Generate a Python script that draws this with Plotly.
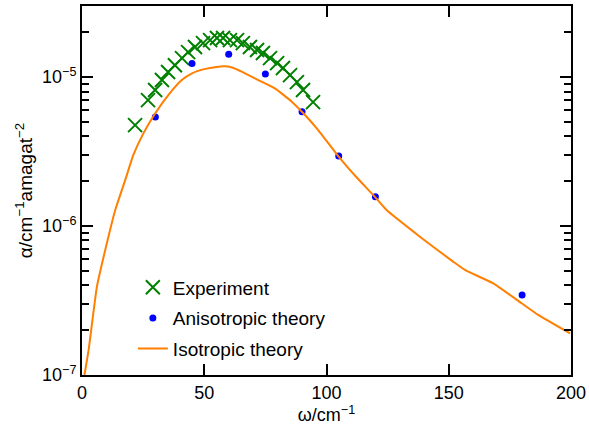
import plotly.graph_objects as go

# Experiment (crosses)
exp_w = [21.7, 27.0, 29.9, 32.7, 35.2, 38.0, 40.9, 43.4, 46.2, 49.5, 52.4, 55.2, 57.7,
         60.5, 63.4, 65.8, 68.7, 71.6, 74.0, 76.9, 79.8, 82.2, 85.1, 87.9, 90.4, 94.5]
exp_a = [4.76e-6, 7.0e-6, 8.18e-6, 9.55e-6, 1.08e-5, 1.20e-5, 1.34e-5, 1.47e-5, 1.59e-5,
         1.69e-5, 1.77e-5, 1.83e-5, 1.83e-5, 1.77e-5, 1.77e-5, 1.69e-5, 1.59e-5, 1.52e-5,
         1.45e-5, 1.34e-5, 1.24e-5, 1.15e-5, 1.03e-5, 9.25e-6, 8.18e-6, 6.79e-6]

# Anisotropic theory (dots)
ani_w = [30, 45, 60, 75, 90, 105, 120, 180]
ani_a = [5.4e-6, 1.235e-5, 1.42e-5, 1.05e-5, 5.85e-6, 2.95e-6, 1.57e-6, 3.44e-7]

# Isotropic theory (line)
iso_w = [1, 2.7, 6.1, 9.5, 13.6, 17.7, 21, 25.1, 29.9, 35.3, 40.8, 45, 50, 55, 58.5, 62,
         65.3, 72.1, 78.9, 85.8, 91.2, 96.6, 104.8, 112, 119.8, 124.6, 138.2, 151.9,
         156.6, 168.2, 179.8, 186.6, 199.6]
iso_a = [1.0e-7, 1.47e-7, 3.92e-7, 6.9e-7, 1.28e-6, 2.04e-6, 3.0e-6, 4.19e-6, 5.7e-6,
         7.57e-6, 9.55e-6, 1.06e-5, 1.13e-5, 1.17e-5, 1.18e-5, 1.15e-5, 1.086e-5,
         9.55e-6, 8.4e-6, 6.83e-6, 5.56e-6, 4.41e-6, 2.95e-6, 2.15e-6, 1.57e-6, 1.28e-6,
         8.48e-7, 5.75e-7, 5.07e-7, 4.12e-7, 3.03e-7, 2.53e-7, 1.9e-7]

x_ticks = [0, 50, 100, 150, 200]
y_ticks = [1e-7, 1e-6, 1e-5]
y_ticktext = ["10<sup>−7</sup>", "10<sup>−6</sup>", "10<sup>−5</sup>"]
y_minor = [m * 10.0 ** e for e in (-7, -6, -5) for m in range(2, 10) if m * 10.0 ** e < 3e-5]

FONT = "Liberation Sans, Arial, sans-serif"

fig = go.Figure()
fig.add_trace(go.Scatter(
    x=exp_w, y=exp_a, mode="markers", name="Experiment", legendgroup="a",
    marker=dict(symbol="x-thin", size=14, line=dict(color="#008000", width=2), color="#008000"),
))
fig.add_trace(go.Scatter(
    x=ani_w, y=ani_a, mode="markers", name="Anisotropic theory", legendgroup="b",
    marker=dict(symbol="circle", size=7, color="#0000ff"),
))
fig.add_trace(go.Scatter(
    x=iso_w, y=iso_a, mode="lines", name="Isotropic theory", legendgroup="c",
    line=dict(color="#ff7f00", width=2, shape="spline", smoothing=0.4),
))

fig.update_layout(
    width=589, height=428,
    margin=dict(l=82, r=18, t=6, b=53),
    paper_bgcolor="white", plot_bgcolor="white",
    font=dict(family=FONT, size=18, color="black"),
    showlegend=True,
    legend=dict(x=0.104, y=0.289, xanchor="left", yanchor="top",
                bgcolor="rgba(0,0,0,0)", font=dict(size=19), tracegroupgap=3),
)
fig.update_xaxes(
    range=[0, 200], tickvals=x_ticks, automargin=False,
    ticks="inside", ticklen=11, tickwidth=1.5, tickcolor="black",
    showline=True, linecolor="black", linewidth=2, mirror="ticks",
    showgrid=False, zeroline=False,
    title=dict(text="ω/cm<sup>−1</sup>", standoff=2, font=dict(size=18)),
)
fig.update_yaxes(
    type="log", range=[-7, -4.523], automargin=False,
    tickmode="array", tickvals=y_ticks, ticktext=y_ticktext,
    ticks="inside", ticklen=11, tickwidth=1.5, tickcolor="black",
    minor=dict(ticks="inside", ticklen=7, tickwidth=1.5, tickcolor="black",
               tickmode="array", tickvals=y_minor, showgrid=False),
    showline=True, linecolor="black", linewidth=2, mirror="ticks",
    showgrid=False, zeroline=False,
    title=dict(text="α/cm<sup>−1</sup>amagat<sup>−2</sup>", standoff=4, font=dict(size=19)),
)

fig.write_html("out.html", config={"displayModeBar": False},
               post_script="document.body.style.margin='0';")
